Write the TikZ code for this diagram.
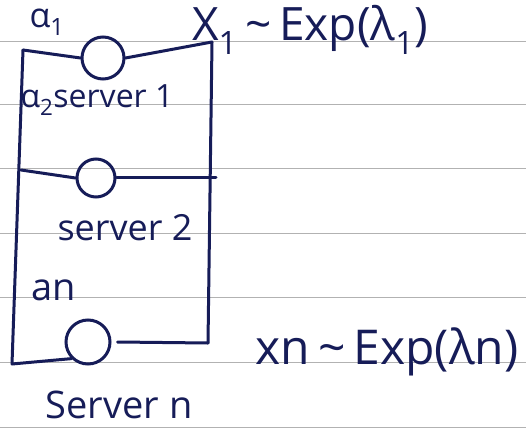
\documentclass[tikz,border=0pt]{standalone}
\usepackage{fontspec}
\setmainfont{Open Sans}
\begin{document}
\begin{tikzpicture}[x=1pt,y=-1pt,
  ink/.style={draw=inkc,line width=3pt,line cap=round,line join=round},
  srv/.style={circle,draw=inkc,line width=3pt,inner sep=0pt},
  lbl/.style={text=inkc,inner sep=0pt},
  rule/.style={draw=black!30,line width=0.9pt}]
\definecolor{inkc}{RGB}{22,28,88}
\useasboundingbox (0,0) rectangle (526,430);
\fill[white] (0,0) rectangle (526,430);
% ruled paper
\foreach \yy in {41,104,168,233,297,362,427}
  \draw[rule] (0,\yy) -- (526,\yy);
% servers
\node[srv,minimum width=42pt,minimum height=42pt] (s1) at (103,58) {};
\node[srv,minimum width=38pt,minimum height=34pt] (s2) at (96,178) {};
\node[srv,minimum width=40pt,minimum height=44pt] (sn) at (88,342) {};
% frame corners
\coordinate (tl) at (23,50);
\coordinate (ml) at (21,170);
\coordinate (bl) at (12,364);
\coordinate (tr) at (212,42);
\coordinate (mr) at (216,178);
\coordinate (br) at (208,343);
\draw[ink] (tl) -- (bl);
\draw[ink] (tr) -- (br);
\draw[ink] (tl) -- (s1.west);
\draw[ink] (s1.east) -- (tr);
\draw[ink] (ml) -- (s2.west);
\draw[ink] (s2.east) -- (mr);
\draw[ink] (bl) -- (sn.south west);
\draw[ink] (sn.east) ++(6,0) coordinate (sne) (sne) -- (br);
% labels
\node[lbl,font=\fontsize{34}{38}\selectfont] (a1) at (47,22) {α\textsubscript{1}};
\node[lbl,font=\fontsize{46}{50}\selectfont] (x1) at (310,30) {X\textsubscript{1}\,\textasciitilde\,Exp(λ\textsubscript{1})};
\node[lbl,font=\fontsize{32}{36}\selectfont] (l1) at (97,100) {α\textsubscript{2}server 1};
\node[lbl,font=\fontsize{36}{40}\selectfont] (l2) at (125,228) {server 2};
\node[lbl,font=\fontsize{38}{42}\selectfont] (an) at (54,290) {an};
\node[lbl,font=\fontsize{38}{42}\selectfont] (ln) at (119,405) {Server n};
\node[lbl,font=\fontsize{48}{52}\selectfont] (xn) at (387,352) {xn\,\textasciitilde\,Exp(λn)};
\end{tikzpicture}
\end{document}
